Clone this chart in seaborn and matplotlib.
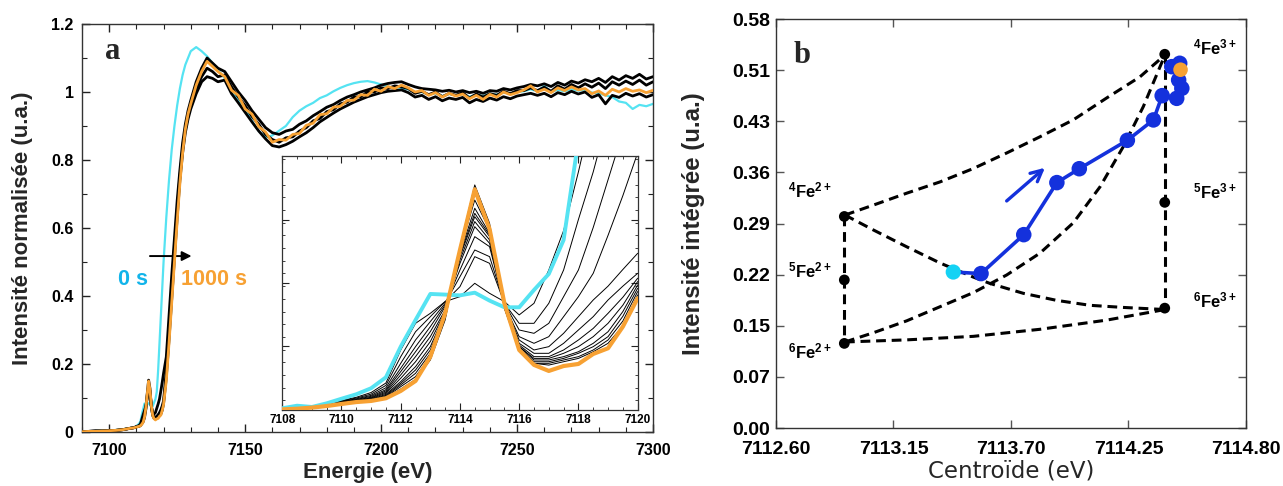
import numpy as np
import matplotlib
matplotlib.use('Agg')
import matplotlib.pyplot as plt
from matplotlib.ticker import MultipleLocator
import seaborn as sns

# ---------------- Panel a : XANES spectra ----------------
E_pre = [7090, 7092.5, 7095, 7097.5, 7100, 7102.5, 7105, 7107]
E_inset = [7108.0, 7108.5, 7109.0, 7109.5, 7110.0, 7110.5, 7111.0, 7111.5, 7112.0,
           7112.5, 7113.0, 7113.5, 7114.0, 7114.5, 7115.0, 7115.5, 7116.0, 7116.5,
           7117.0, 7117.5, 7118.0, 7118.5, 7119.0, 7119.5, 7120.0]
E_edge = [7121, 7122, 7123, 7124, 7125, 7126, 7127, 7128, 7129, 7130, 7132, 7134,
          7136, 7138, 7140]
E_post = [7142.5, 7145, 7147.5, 7150, 7152.5, 7155, 7157.5, 7160, 7162.5, 7165,
          7167.5, 7170, 7172.5, 7175, 7177.5, 7180, 7182.5, 7185, 7187.5, 7190,
          7192.5, 7195, 7197.5, 7200, 7202.5, 7205, 7207.5, 7210, 7212.5, 7215,
          7217.5, 7220, 7222.5, 7225, 7227.5, 7230, 7232.5, 7235, 7237.5, 7240,
          7242.5, 7245, 7247.5, 7250, 7252.5, 7255, 7257.5, 7260, 7262.5, 7265,
          7267.5, 7270, 7272.5, 7275, 7277.5, 7280, 7282.5, 7285, 7287.5, 7290,
          7292.5, 7295, 7297.5, 7300]

# 0 s (cyan) and 1000 s (orange)
cyan_pre = [0.000, 0.001, 0.002, 0.003, 0.004, 0.005, 0.007, 0.010]
orange_pre = [0.000, 0.001, 0.001, 0.002, 0.003, 0.004, 0.006, 0.009]
black_pre = [0.000, 0.001, 0.002, 0.002, 0.003, 0.004, 0.006, 0.009]

cyan_in = [0.0111, 0.0127, 0.0119, 0.0142, 0.0171, 0.0199, 0.0237, 0.0306, 0.0499,
           0.0667, 0.0831, 0.0827, 0.0822, 0.0839, 0.0789, 0.0747, 0.0747, 0.0856,
           0.0957, 0.1171, 0.180, 0.260, 0.340, 0.420, 0.500]
orange_in = [0.0104, 0.0108, 0.0115, 0.0125, 0.0138, 0.0150, 0.0157, 0.0174, 0.0220,
             0.0283, 0.0436, 0.0709, 0.1108, 0.1490, 0.1240, 0.0772, 0.0478, 0.0384,
             0.0346, 0.0377, 0.0390, 0.0453, 0.0489, 0.0625, 0.0804]

# intermediate times (black), pre-edge region
k01 = [0.0110, 0.0118, 0.0125, 0.0140, 0.0160, 0.0180, 0.0210, 0.0270, 0.0478, 0.0646, 0.0709, 0.0783, 0.0814, 0.0898, 0.0835, 0.0783, 0.0699, 0.0772, 0.0982, 0.1230, 0.1600, 0.2000, 0.2400, 0.2800, 0.3200]
k02 = [0.0108, 0.0116, 0.0124, 0.0138, 0.0158, 0.0175, 0.0200, 0.0255, 0.0436, 0.0593, 0.0688, 0.0783, 0.0877, 0.1066, 0.1024, 0.0772, 0.0646, 0.0646, 0.0772, 0.0982, 0.1300, 0.1600, 0.1950, 0.2300, 0.2650]
k03 = [0.0107, 0.0114, 0.0122, 0.0136, 0.0155, 0.0170, 0.0192, 0.0240, 0.0394, 0.0541, 0.0657, 0.0772, 0.0940, 0.1108, 0.1066, 0.0772, 0.0604, 0.0583, 0.0646, 0.0814, 0.0982, 0.1250, 0.1550, 0.1850, 0.2150]
k04 = [0.0106, 0.0112, 0.0120, 0.0134, 0.0152, 0.0166, 0.0186, 0.0228, 0.0363, 0.0499, 0.0625, 0.0762, 0.0982, 0.1192, 0.1129, 0.0762, 0.0562, 0.0520, 0.0562, 0.0688, 0.0814, 0.0961, 0.1200, 0.1450, 0.1720]
k05 = [0.0106, 0.0111, 0.0119, 0.0132, 0.0150, 0.0163, 0.0180, 0.0220, 0.0342, 0.0467, 0.0594, 0.0751, 0.1024, 0.1255, 0.1150, 0.0762, 0.0541, 0.0478, 0.0499, 0.0583, 0.0688, 0.0793, 0.0880, 0.0985, 0.1087]
k06 = [0.0105, 0.0110, 0.0118, 0.0131, 0.0148, 0.0160, 0.0176, 0.0212, 0.0321, 0.0436, 0.0562, 0.0730, 0.1045, 0.1287, 0.1171, 0.0762, 0.0520, 0.0457, 0.0457, 0.0520, 0.0604, 0.0688, 0.0793, 0.0880, 0.0961]
k07 = [0.0105, 0.0110, 0.0117, 0.0130, 0.0146, 0.0158, 0.0172, 0.0205, 0.0300, 0.0404, 0.0531, 0.0720, 0.1066, 0.1318, 0.1192, 0.0751, 0.0509, 0.0436, 0.0436, 0.0478, 0.0541, 0.0614, 0.0709, 0.0810, 0.0930]
k08 = [0.0105, 0.0109, 0.0117, 0.0129, 0.0144, 0.0156, 0.0168, 0.0198, 0.0279, 0.0373, 0.0499, 0.0709, 0.1077, 0.1339, 0.1203, 0.0751, 0.0499, 0.0425, 0.0425, 0.0457, 0.0499, 0.0562, 0.0646, 0.0760, 0.0909]
k09 = [0.0105, 0.0109, 0.0116, 0.0128, 0.0142, 0.0154, 0.0165, 0.0192, 0.0268, 0.0352, 0.0478, 0.0699, 0.1087, 0.1371, 0.1213, 0.0751, 0.0499, 0.0415, 0.0415, 0.0436, 0.0467, 0.0520, 0.0593, 0.0720, 0.0888]
k10 = [0.0104, 0.0109, 0.0116, 0.0127, 0.0141, 0.0153, 0.0162, 0.0187, 0.0258, 0.0331, 0.0457, 0.0688, 0.1108, 0.1423, 0.1234, 0.0751, 0.0488, 0.0404, 0.0404, 0.0425, 0.0457, 0.0499, 0.0562, 0.0690, 0.0867]
k11 = [0.0104, 0.0108, 0.0115, 0.0126, 0.0140, 0.0152, 0.0160, 0.0182, 0.0247, 0.0310, 0.0436, 0.0678, 0.1108, 0.1465, 0.1255, 0.0741, 0.0488, 0.0394, 0.0394, 0.0415, 0.0436, 0.0478, 0.0541, 0.0660, 0.0846]
k12 = [0.0104, 0.0108, 0.0115, 0.0125, 0.0139, 0.0151, 0.0158, 0.0178, 0.0232, 0.0293, 0.0415, 0.0667, 0.1129, 0.1518, 0.1276, 0.0741, 0.0478, 0.0394, 0.0383, 0.0404, 0.0425, 0.0467, 0.0520, 0.0630, 0.0825]
black_inset = [k01, k02, k03, k04, k05, k06, k07, k08, k09, k10, k11, k12]

cyan_edge = [0.63, 0.74, 0.83, 0.90, 0.96, 1.01, 1.05, 1.08, 1.10, 1.12, 1.132, 1.12, 1.105, 1.085, 1.065]
orange_edge = [0.15, 0.26, 0.38, 0.50, 0.62, 0.73, 0.82, 0.89, 0.935, 0.965, 1.02, 1.06, 1.09, 1.075, 1.060]
b1_edge = [0.22, 0.34, 0.46, 0.57, 0.68, 0.77, 0.85, 0.905, 0.945, 0.975, 1.03, 1.07, 1.10, 1.085, 1.07]
b2_edge = [0.18, 0.30, 0.42, 0.54, 0.65, 0.75, 0.83, 0.89, 0.93, 0.96, 1.01, 1.045, 1.07, 1.06, 1.045]
b3_edge = [0.16, 0.27, 0.39, 0.51, 0.63, 0.74, 0.82, 0.88, 0.92, 0.95, 0.995, 1.03, 1.045, 1.04, 1.03]

cyan_post = [1.040, 1.008, 0.975, 0.950, 0.915, 0.885, 0.866, 0.872, 0.886, 0.900,
             0.926, 0.945, 0.958, 0.968, 0.982, 0.990, 1.002, 1.012, 1.020, 1.026,
             1.030, 1.032, 1.028, 1.022, 1.016, 1.012, 1.010, 1.008, 0.998, 1.000,
             0.992, 0.996, 0.988, 0.994, 0.990, 0.994, 0.986, 0.992, 0.988, 0.995,
             0.992, 0.998, 0.995, 1.000, 1.002, 1.008, 1.002, 1.018, 1.000, 1.006,
             1.002, 1.008, 1.004, 1.006, 0.998, 0.996, 0.990, 0.985, 0.972, 0.968,
             0.950, 0.962, 0.958, 0.965]
orange_post = [1.045, 1.005, 0.990, 0.950, 0.935, 0.898, 0.882, 0.852, 0.860, 0.858,
               0.875, 0.878, 0.902, 0.908, 0.933, 0.936, 0.955, 0.958, 0.975, 0.976,
               0.992, 0.990, 1.008, 1.002, 1.016, 1.010, 1.020, 1.012, 1.000, 1.004,
               0.990, 0.998, 0.985, 0.996, 0.988, 0.994, 0.980, 0.990, 0.978, 0.993,
               0.985, 1.000, 0.992, 0.998, 1.006, 1.018, 1.000, 1.008, 0.998, 1.012,
               1.004, 1.015, 1.006, 1.010, 0.995, 1.003, 0.990, 1.008, 1.000, 1.010,
               1.002, 1.006, 0.998, 1.005]
b1_post = [1.060, 1.030, 1.000, 0.975, 0.945, 0.920, 0.895, 0.880, 0.875, 0.885,
           0.890, 0.905, 0.915, 0.930, 0.942, 0.955, 0.963, 0.975, 0.985, 0.992,
           1.000, 1.006, 1.012, 1.020, 1.025, 1.028, 1.030, 1.022, 1.015, 1.010,
           1.008, 1.006, 1.002, 1.005, 1.000, 1.004, 0.998, 1.002, 0.996, 1.004,
           1.002, 1.010, 1.006, 1.012, 1.016, 1.022, 1.018, 1.024, 1.016, 1.028,
           1.020, 1.032, 1.026, 1.036, 1.030, 1.040, 1.028, 1.045, 1.035, 1.048,
           1.040, 1.052, 1.038, 1.045]
b2_post = [1.050, 1.015, 0.985, 0.960, 0.928, 0.905, 0.875, 0.860, 0.852, 0.865,
           0.868, 0.885, 0.895, 0.915, 0.922, 0.942, 0.948, 0.965, 0.970, 0.985,
           0.986, 1.000, 1.000, 1.012, 1.010, 1.018, 1.015, 1.010, 0.996, 1.002,
           0.992, 1.000, 0.986, 0.996, 0.990, 0.998, 0.982, 0.994, 0.985, 0.995,
           0.990, 1.002, 0.995, 1.004, 1.004, 1.012, 1.004, 1.014, 1.002, 1.018,
           1.008, 1.022, 1.012, 1.024, 1.014, 1.026, 1.010, 1.030, 1.020, 1.032,
           1.022, 1.035, 1.020, 1.030]
b3_post = [1.035, 0.995, 0.968, 0.940, 0.912, 0.885, 0.862, 0.842, 0.838, 0.845,
           0.855, 0.868, 0.880, 0.895, 0.912, 0.925, 0.938, 0.950, 0.960, 0.970,
           0.978, 0.986, 0.992, 0.998, 1.002, 1.004, 1.006, 0.998, 0.985, 0.990,
           0.978, 0.986, 0.974, 0.982, 0.978, 0.984, 0.968, 0.978, 0.972, 0.982,
           0.976, 0.986, 0.980, 0.988, 0.992, 0.996, 0.990, 0.996, 0.986, 0.998,
           0.992, 1.002, 0.994, 1.000, 0.984, 0.992, 0.965, 0.990, 0.984, 0.996,
           0.988, 0.995, 0.985, 0.992]

# ---------------- Panel b : centroid vs integrated intensity ----------------
ref_labels = ['$^{4}$Fe$^{2+}$', '$^{5}$Fe$^{2+}$', '$^{6}$Fe$^{2+}$',
              '$^{4}$Fe$^{3+}$', '$^{5}$Fe$^{3+}$', '$^{6}$Fe$^{3+}$']
ref_C = [7112.92, 7112.92, 7112.92, 7114.42, 7114.42, 7114.42]
ref_I = [0.30, 0.21, 0.12, 0.53, 0.32, 0.17]

# dashed mixing curves
mixA_C = [7112.923, 7113.055, 7113.212, 7113.368, 7113.524, 7113.680, 7113.836, 7113.992, 7114.148, 7114.304, 7114.421]
mixA_I = [0.302, 0.316, 0.333, 0.349, 0.368, 0.390, 0.413, 0.437, 0.468, 0.498, 0.529]
mixB_C = [7112.923, 7113.055, 7113.212, 7113.368, 7113.524, 7113.602, 7113.758, 7113.914, 7114.070, 7114.226, 7114.421]
mixB_I = [0.302, 0.281, 0.257, 0.234, 0.214, 0.205, 0.191, 0.181, 0.174, 0.171, 0.168]
mixC_C = [7112.923, 7113.055, 7113.212, 7113.368, 7113.524, 7113.680, 7113.836, 7113.992, 7114.117, 7114.226, 7114.320, 7114.421]
mixC_I = [0.122, 0.135, 0.152, 0.172, 0.192, 0.217, 0.248, 0.291, 0.342, 0.399, 0.456, 0.529]
mixD_C = [7112.923, 7113.212, 7113.524, 7113.836, 7114.148, 7114.421]
mixD_I = [0.122, 0.125, 0.130, 0.140, 0.153, 0.168]

cent_C = [7113.43, 7113.56, 7113.76, 7113.915, 7114.02, 7114.245, 7114.367, 7114.408,
          7114.476, 7114.50, 7114.485, 7114.453, 7114.49, 7114.494]
cent_I = [0.2212, 0.2190, 0.2742, 0.3480, 0.3677, 0.4080, 0.4369, 0.4713,
          0.4675, 0.4817, 0.4935, 0.5124, 0.5172, 0.5081]

b_xticks = [7112.60, 7113.15, 7113.70, 7114.25, 7114.80]
b_yticks = [0.0, 0.0725, 0.145, 0.2175, 0.29, 0.3625, 0.435, 0.5075, 0.58]
b_yticklabels = ['0.00', '0.07', '0.15', '0.22', '0.29', '0.36', '0.43', '0.51', '0.58']

# ---------------- colours ----------------
C_CYAN = '#55e3f2'
C_CYAN_TXT = '#12b4ea'
C_ORANGE = '#f7a133'
C_BLUE = '#1431dc'
C_CYAN_PT = '#14d2f4'

sns.set_theme(style='ticks')
plt.rcParams['font.family'] = ['Liberation Sans', 'DejaVu Sans']
plt.rcParams['mathtext.fontset'] = 'custom'
plt.rcParams['mathtext.rm'] = 'Liberation Sans'
plt.rcParams['mathtext.it'] = 'Liberation Sans:italic'
plt.rcParams['mathtext.bf'] = 'Liberation Sans:bold'
plt.rcParams['mathtext.default'] = 'bf'
plt.rcParams['axes.linewidth'] = 1.0
plt.rcParams['axes.edgecolor'] = '#333333'

fig = plt.figure(figsize=(12.83, 4.86), dpi=100)
axA = fig.add_axes([0.0639, 0.1117, 0.4451, 0.8389])
axI = fig.add_axes([0.2200, 0.1564, 0.2770, 0.5226])
axB = fig.add_axes([0.6048, 0.1193, 0.3663, 0.8416])


def line(ax, x, y, color, lw, z, **kw):
    sns.lineplot(x=x, y=y, ax=ax, color=color, linewidth=lw, sort=False,
                 estimator=None, zorder=z, legend=False, **kw)


# ---- panel a main ----
E_all = E_pre + E_inset + E_edge + E_post
cyan_all = cyan_pre + cyan_in + cyan_edge + cyan_post
orange_all = orange_pre + orange_in + orange_edge + orange_post
b1_all = black_pre + k04 + b1_edge + b1_post
b2_all = black_pre + k08 + b2_edge + b2_post
b3_all = black_pre + k12 + b3_edge + b3_post

line(axA, E_all, cyan_all, C_CYAN, 1.6, 2)
for b in (b1_all, b3_all, b2_all):
    line(axA, E_all, b, 'black', 2.0, 3)
line(axA, E_all, orange_all, C_ORANGE, 2.0, 4)

axA.set_xlim(7090, 7300)
axA.set_ylim(0, 1.2)
axA.set_xticks([7100, 7150, 7200, 7250, 7300])
axA.set_xticklabels(['7100', '7150', '7200', '7250', '7300'])
axA.set_yticks([0, 0.2, 0.4, 0.6, 0.8, 1.0, 1.2])
axA.set_yticklabels(['0', '0.2', '0.4', '0.6', '0.8', '1', '1.2'])
axA.xaxis.set_minor_locator(MultipleLocator(10))
axA.yaxis.set_minor_locator(MultipleLocator(0.1))
axA.tick_params(which='both', direction='in', top=True, right=True, labelsize=11.5,
                colors='#222222', labelcolor='black')
axA.tick_params(which='major', length=6, width=1)
axA.tick_params(which='minor', length=3.5, width=0.8)
axA.tick_params(axis='x', which='major', pad=8)
axA.tick_params(axis='y', which='major', pad=6)
axA.set_xlabel('Energie (eV)', fontsize=16, fontweight='bold')
axA.set_ylabel('Intensité normalisée (u.a.)', fontsize=16, fontweight='bold')
axA.xaxis.set_label_coords(0.5, -0.075)
axA.yaxis.set_label_coords(-0.085, 0.5)

axA.text(7098.4, 1.096, 'a', family=['Liberation Serif', 'DejaVu Serif'],
         fontweight='bold', fontsize=22, ha='left', va='baseline')
axA.text(7103.4, 0.432, '0 s', color=C_CYAN_TXT, fontsize=15.5, fontweight='bold',
         ha='left', va='baseline')
axA.text(7126.4, 0.432, '1000 s', color=C_ORANGE, fontsize=15.5, fontweight='bold',
         ha='left', va='baseline')
axA.annotate('', xy=(7130.3, 0.517), xytext=(7115.0, 0.517),
             arrowprops=dict(arrowstyle='-|>', color='black', lw=1.4,
                             mutation_scale=14, shrinkA=0, shrinkB=0))

# ---- inset ----
for k in black_inset:
    line(axI, E_inset, k, 'black', 0.7, 2)
line(axI, E_inset, cyan_in, C_CYAN, 2.8, 3)
line(axI, E_inset, orange_in, C_ORANGE, 3.0, 4)
axI.set_xlim(7108, 7120)
axI.set_ylim(0.01, 0.17)
axI.set_xticks([7108, 7110, 7112, 7114, 7116, 7118, 7120])
axI.set_xticklabels(['7108', '7110', '7112', '7114', '7116', '7118', '7120'])
axI.set_yticks([0.05, 0.09, 0.13])
axI.set_yticklabels([])
axI.yaxis.set_minor_locator(MultipleLocator(0.008))
axI.xaxis.set_minor_locator(MultipleLocator(0.5))
axI.tick_params(which='both', direction='in', top=True, right=True, labelsize=8.5,
                pad=3, colors='#222222', labelcolor='black')
axI.tick_params(which='major', length=5, width=0.8)
axI.tick_params(which='minor', length=2.5, width=0.6)
axI.set_xlabel('')
axI.set_ylabel('')
for lbl in axI.get_xticklabels():
    lbl.set_fontweight('bold')
for sp in axI.spines.values():
    sp.set_linewidth(0.9)

# ---- panel b ----
dash = (0, (3.2, 1.9))
for cx, cy in ((mixA_C, mixA_I), (mixB_C, mixB_I), (mixC_C, mixC_I), (mixD_C, mixD_I)):
    line(axB, cx, cy, 'black', 2.2, 2, linestyle=dash)
line(axB, [ref_C[0], ref_C[2]], [ref_I[0], ref_I[2]], 'black', 2.2, 2, linestyle=dash)
line(axB, [ref_C[3], ref_C[5]], [ref_I[3], ref_I[5]], 'black', 2.2, 2, linestyle=dash)
sns.scatterplot(x=ref_C, y=ref_I, ax=axB, color='black', s=60, edgecolor='none',
                zorder=6, legend=False)

line(axB, cent_C, cent_I, C_BLUE, 2.6, 4)
sns.scatterplot(x=cent_C[1:-1], y=cent_I[1:-1], ax=axB, color=C_BLUE, s=125,
                edgecolor='none', zorder=5, legend=False)
sns.scatterplot(x=cent_C[:1], y=cent_I[:1], ax=axB, color=C_CYAN_PT, s=120,
                edgecolor='none', zorder=5, legend=False)
sns.scatterplot(x=cent_C[-1:], y=cent_I[-1:], ax=axB, color=C_ORANGE, s=110,
                edgecolor='none', zorder=7, legend=False)
axB.annotate('', xy=(7113.859, 0.369), xytext=(7113.68, 0.322),
             arrowprops=dict(arrowstyle='->', color=C_BLUE, lw=2.4,
                             mutation_scale=20, shrinkA=0, shrinkB=0))

label_pos = [(7112.76, 0.3375), (7112.76, 0.224), (7112.76, 0.108),
             (7114.655, 0.539), (7114.655, 0.335), (7114.655, 0.1815)]
for lab, (lx, ly) in zip(ref_labels, label_pos):
    axB.text(lx, ly, lab, fontsize=12, fontweight='bold', ha='center', va='center',
             color='black')

axB.text(7112.682, 0.518, 'b', family=['Liberation Serif', 'DejaVu Serif'],
         fontweight='bold', fontsize=22, ha='left', va='baseline')

axB.set_xlim(7112.6, 7114.8)
axB.set_ylim(0, 0.58)
axB.set_xticks(b_xticks)
axB.set_xticklabels(['%.2f' % v for v in b_xticks])
axB.set_yticks(b_yticks)
axB.set_yticklabels(b_yticklabels)
axB.tick_params(which='both', direction='in', top=True, right=True, labelsize=14,
                length=6, width=1, colors='#555555', labelcolor='black')
axB.tick_params(axis='x', pad=9)
axB.tick_params(axis='y', pad=4)
axB.set_xlabel('Centroïde (eV)', fontsize=16.5, family=['DejaVu Sans'])
axB.set_ylabel('Intensité intégrée (u.a.)', fontsize=17.3, fontweight='bold')
axB.xaxis.set_label_coords(0.5, -0.078)
axB.yaxis.set_label_coords(-0.151, 0.5)

for ax in (axA, axB):
    for lbl in ax.get_xticklabels() + ax.get_yticklabels():
        lbl.set_fontweight('bold')

fig.savefig('out.png', dpi=100)
